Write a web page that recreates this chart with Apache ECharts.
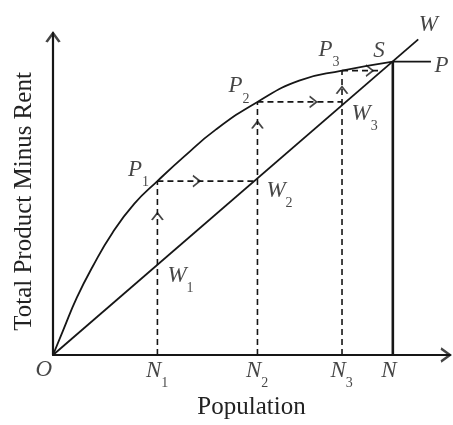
<!DOCTYPE html>
<html>
<head>
<meta charset="utf-8">
<script src="https://cdn.jsdelivr.net/npm/echarts@6/dist/echarts.min.js"></script>
<style>
  html, body { margin: 0; padding: 0; background: #fff; }
  #chart { width: 453px; height: 425px; }
</style>
</head>
<body>
<div id="chart"></div>
<script>
// total product minus rent curve (axes 0..100)
const curveX = [0, 2.5, 6, 10, 15, 20.5, 26.3, 33, 41, 51.5, 62, 72.8, 85.6];
const curveY = [0, 7.5, 17.8, 27.5, 38, 47, 54.0, 61.6, 70.0, 78.6, 85.2, 88.3, 91.1];

// population marks N1, N2, N3, N
const popTicks = [26.3, 51.5, 72.8, 85.6];
const popNames = ["N1", "N2", "N3", "N"];

// heights on P curve (P1, P2, P3, S) and on W line (W1, W2, W3)
const pHeights = [54.0, 78.6, 88.3, 91.1];
const wHeights = [27.8, 54.5, 77.8];

// W line and flat P stretch
const wLineX = [0, 92];
const wLineY = [0, 98];
const pEndX = 95.2;
const lastStepEndX = 82.9;

// arrow tips along the dashed path
const upArrows = [[26.3, 44.1], [51.5, 72.5], [72.8, 83.3]];
const rightArrows = [[37.0, 54.0], [66.4, 78.6], [80.6, 88.3]];

const xName = "Population";
const yName = "Total Product Minus Rent";

const FONT = "'Liberation Serif', 'DejaVu Serif', serif";
const INK = "#161616";

const chart = echarts.init(document.getElementById("chart"), null, { renderer: "canvas" });

function line(points, width, dashed) {
  return {
    type: "line",
    data: points,
    showSymbol: false,
    silent: true,
    clip: false,
    lineStyle: { color: INK, width: width, type: dashed ? [6, 4] : "solid" },
    z: dashed ? 2 : 3,
  };
}

function lbl(x, y, main, sub, dx, dy) {
  return {
    value: [x, y],
    label: {
      show: true,
      position: [dx, dy],
      align: "left",
      verticalAlign: "top",
      formatter: sub ? `{m|${main}}{s|${sub}}` : `{m|${main}}`,
    },
  };
}

const dashSegs = [
  [[popTicks[0], 0], [popTicks[0], pHeights[0]]],
  [[popTicks[0], pHeights[0]], [popTicks[1], pHeights[0]]],
  [[popTicks[1], 0], [popTicks[1], pHeights[1]]],
  [[popTicks[1], pHeights[1]], [popTicks[2], pHeights[1]]],
  [[popTicks[2], 0], [popTicks[2], pHeights[2]]],
  [[popTicks[2], pHeights[2]], [lastStepEndX, pHeights[2]]],
];

const labels = [
  lbl(popTicks[0], pHeights[0], "P", "1", -29, -22),
  lbl(popTicks[1], pHeights[1], "P", "2", -28.5, -26.5),
  lbl(popTicks[2], pHeights[2], "P", "3", -23, -32),
  lbl(popTicks[3], pHeights[3], "S", "", -19, -22),
  lbl(pEndX, pHeights[3], "P", "", 4, -7),
  lbl(wLineX[1], wLineY[1], "W", "", 1, -25),
  lbl(popTicks[0], wHeights[0], "W", "1", 10.5, -1),
  lbl(popTicks[1], wHeights[1], "W", "2", 9.5, 0),
  lbl(popTicks[2], wHeights[2], "W", "3", 10, -1.5),
  lbl(0, 0, "O", "", -17, 3.5),
].concat(popTicks.map((x, i) => lbl(x, 0, "N", popNames[i].slice(1), -11, 4.5)));

const chevron = "path://M0,8 L5,0 L10,8";

function arrows(points, rotate, offset, size, width) {
  return {
    type: "scatter",
    data: points,
    symbol: chevron,
    symbolSize: size,
    symbolRotate: rotate,
    symbolOffset: offset,
    silent: true,
    clip: false,
    itemStyle: { color: "transparent", borderColor: INK, borderWidth: width },
    z: 4,
  };
}

const series = [
  line(curveX.map((x, i) => [x, curveY[i]]), 1.8, false),
  line([[popTicks[3], pHeights[3]], [pEndX, pHeights[3]]], 1.8, false),
  line([[popTicks[3], 0], [popTicks[3], pHeights[3]]], 2.6, false),
  line([[wLineX[0], wLineY[0]], [wLineX[1], wLineY[1]]], 1.8, false),
].concat(dashSegs.map((s) => line(s, 1.6, true)));

series[0].smooth = 0.5;

series.push(arrows(upArrows, 0, [0, 3.5], [11, 7], 1.6));
series.push(arrows(rightArrows, -90, [-3.5, 0], [11, 7], 1.6));
series.push(arrows([[0, 100]], 0, [0, 4.5], [13, 9], 2.2));
series.push(arrows([[100, 0]], -90, [-4.5, 0], [13, 9], 2.2));

series.push({
  type: "scatter",
  data: labels,
  symbolSize: 1,
  silent: true,
  clip: false,
  itemStyle: { color: "transparent" },
  label: {
    color: INK,
    rich: {
      m: { fontFamily: FONT, fontStyle: "italic", fontSize: 23, lineHeight: 22, verticalAlign: "top", color: INK },
      s: { fontFamily: FONT, fontSize: 14, lineHeight: 13, padding: [17, 0, 0, 0], verticalAlign: "top", color: INK },
    },
  },
  z: 5,
});

chart.setOption({
  animation: false,
  backgroundColor: "#fff",
  grid: { left: 53, top: 33, right: 3, bottom: 70 },
  xAxis: {
    type: "value",
    min: 0,
    max: 100,
    name: xName,
    nameLocation: "middle",
    nameGap: 40,
    nameTextStyle: { fontFamily: FONT, fontSize: 25, color: "#222" },
    axisLine: { show: true, lineStyle: { color: INK, width: 2.2 } },
    axisTick: { show: false },
    axisLabel: { show: false },
    splitLine: { show: false },
  },
  yAxis: {
    type: "value",
    min: 0,
    max: 100,
    name: yName,
    nameLocation: "middle",
    nameGap: 16,
    nameTextStyle: { fontFamily: FONT, fontSize: 25, color: "#222", padding: [0, 15, 0, 0] },
    axisLine: { show: true, lineStyle: { color: INK, width: 2.2 } },
    axisTick: { show: false },
    axisLabel: { show: false },
    splitLine: { show: false },
  },
  series: series,
});
</script>
</body>
</html>
